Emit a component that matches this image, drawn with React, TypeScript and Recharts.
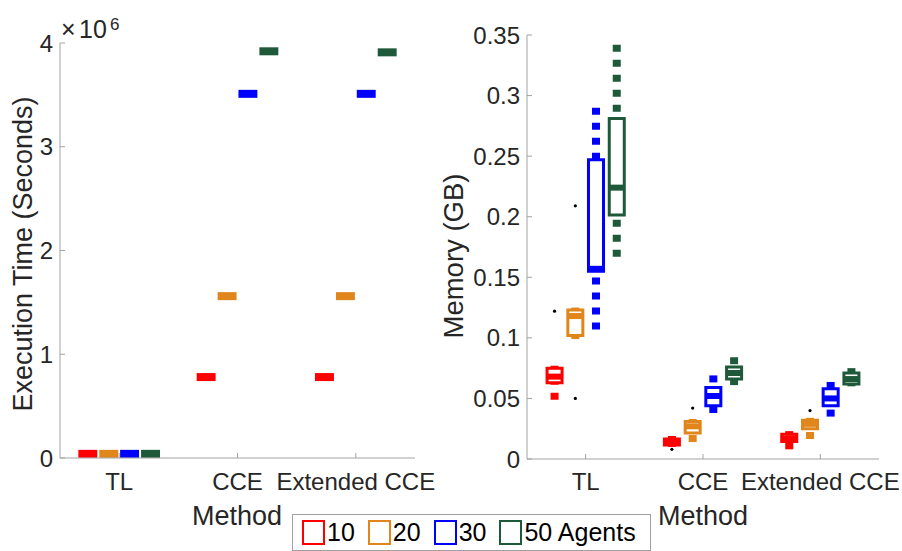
import React from 'react';
import { ComposedChart, XAxis, YAxis, ReferenceLine, ReferenceArea, ReferenceDot } from 'recharts';

// ---------- data ----------
const methods = ['TL', 'CCE', 'Extended CCE'];
const agentLabels = ['10', '20', '30', '50 Agents'];
const seriesColors = ['#ff0000', '#e0861a', '#0000ff', '#1e5a3a'];
const groupOffsets = [-0.265, -0.088, 0.088, 0.265];

// Execution time (seconds), one value per method [TL, CCE, Extended CCE]
const time10 = [40000, 780000, 780000];
const time20 = [40000, 1560000, 1560000];
const time30 = [40000, 3510000, 3510000];
const time50 = [40000, 3920000, 3910000];
const timeTicks = [0, 1000000, 2000000, 3000000, 4000000];
const timeTickLabels = ['0', '1', '2', '3', '4'];

// Memory (GB), per method: [whiskerLow, q1, median, q3, whiskerHigh]
const mem10 = [
  [0.049, 0.063, 0.068, 0.075, 0.077],
  [0.01, 0.0115, 0.014, 0.0165, 0.019],
  [0.008, 0.0145, 0.017, 0.0205, 0.023],
];
const mem20 = [
  [0.099, 0.102, 0.118, 0.123, 0.125],
  [0.014, 0.0215, 0.027, 0.031, 0.033],
  [0.0165, 0.025, 0.029, 0.032, 0.034],
];
const mem30 = [
  [0.107, 0.155, 0.157, 0.247, 0.29],
  [0.038, 0.044, 0.052, 0.059, 0.069],
  [0.035, 0.044, 0.05, 0.058, 0.0636],
];
const mem50 = [
  [0.167, 0.2015, 0.224, 0.281, 0.342],
  [0.061, 0.066, 0.071, 0.076, 0.084],
  [0.06, 0.062, 0.066, 0.071, 0.075],
];
// outliers: [methodIndex, seriesIndex, value]
const memOutliers = [
  [0, 0, 0.122],
  [0, 1, 0.05],
  [0, 1, 0.209],
  [1, 0, 0.008],
  [1, 1, 0.042],
  [2, 1, 0.04],
];
const memTicks = [0, 0.05, 0.1, 0.15, 0.2, 0.25, 0.3, 0.35];
const memTickLabels = ['0', '0.05', '0.1', '0.15', '0.2', '0.25', '0.3', '0.35'];

// ---------- styling ----------
const FONT = '"Liberation Sans", Arial, Helvetica, sans-serif';
const AXIS_GRAY = '#a3a3a3';
const TEXT_GRAY = '#262626';

type Row = { key: string; x: number; color: string; lo: number; q1: number; med: number; q3: number; hi: number };

const timeSeries = [time10, time20, time30, time50];
const memSeries = [mem10, mem20, mem30, mem50];

const timeRows: Row[] = [];
timeSeries.forEach((vals, si) =>
  vals.forEach((v, mi) =>
    timeRows.push({ key: `t${si}-${mi}`, x: mi + 1 + groupOffsets[si], color: seriesColors[si], lo: v, q1: v, med: v, q3: v, hi: v })
  )
);
const memRows: Row[] = [];
memSeries.forEach((vals, si) =>
  vals.forEach((s, mi) =>
    memRows.push({ key: `m${si}-${mi}`, x: mi + 1 + groupOffsets[si], color: seriesColors[si], lo: s[0], q1: s[1], med: s[2], q3: s[3], hi: s[4] })
  )
);

function renderBoxes(rows: Row[], halfW: number, medW: number) {
  const out: React.ReactNode[] = [];
  rows.forEach((r) => {
    if (r.hi > r.q3)
      out.push(
        <ReferenceLine key={r.key + 'wh'} segment={[{ x: r.x, y: r.hi }, { x: r.x, y: r.q3 }]} stroke={r.color} strokeWidth={8} strokeDasharray="7 8" />
      );
    if (r.lo < r.q1)
      out.push(
        <ReferenceLine key={r.key + 'wl'} segment={[{ x: r.x, y: r.lo }, { x: r.x, y: r.q1 }]} stroke={r.color} strokeWidth={8} strokeDasharray="7 8" />
      );
    if (r.q3 > r.q1)
      out.push(
        <ReferenceArea key={r.key + 'b'} x1={r.x - halfW} x2={r.x + halfW} y1={r.q1} y2={r.q3} fill="none" fillOpacity={0} stroke={r.color} strokeWidth={3} />
      );
    out.push(
      <ReferenceLine key={r.key + 'm'} segment={[{ x: r.x - halfW, y: r.med }, { x: r.x + halfW, y: r.med }]} stroke={r.color} strokeWidth={medW} />
    );
  });
  return out;
}

const tickStyle = { fill: TEXT_GRAY, fontSize: 24, fontFamily: FONT };

export default function App() {
  const methodTickFmt = (v: number) => methods[Math.round(v) - 1] ?? '';
  return (
    <div style={{ position: 'fixed', left: 0, top: 0, width: 902, height: 551, background: '#fff', fontFamily: FONT }}>
      {/* Left chart: execution time */}
      <div style={{ position: 'absolute', left: 0, top: 0 }}>
        <ComposedChart width={451} height={551} data={timeRows} margin={{ top: 43, right: 36, bottom: 33, left: 0 }}>
          <XAxis
            xAxisId={0}
            type="number"
            dataKey="x"
            domain={[0.5, 3.5]}
            ticks={[1, 2, 3]}
            interval={0}
            tickFormatter={methodTickFmt}
            height={60}
            tickSize={-5}
            tickMargin={20}
            stroke={AXIS_GRAY}
            tick={tickStyle}
            allowDataOverflow
          />
          <XAxis xAxisId="top" orientation="top" type="number" dataKey="x" domain={[0.5, 3.5]} ticks={[1, 2, 3]} interval={0} height={0} tickSize={-5} tick={false} stroke={AXIS_GRAY} allowDataOverflow />
          <YAxis
            yAxisId={0}
            type="number"
            domain={[0, 4000000]}
            ticks={timeTicks}
            interval={0}
            tickFormatter={(v: number) => timeTickLabels[timeTicks.indexOf(v)] ?? ''}
            width={60}
            tickSize={-5}
            tickMargin={12}
            stroke={AXIS_GRAY}
            tick={tickStyle}
            allowDataOverflow
          />
          <YAxis yAxisId="right" orientation="right" type="number" domain={[0, 4000000]} ticks={timeTicks} interval={0} width={0} tickSize={-5} tick={false} stroke={AXIS_GRAY} allowDataOverflow />
          {renderBoxes(timeRows, 0.08, 8)}
        </ComposedChart>
      </div>

      {/* Right chart: memory */}
      <div style={{ position: 'absolute', left: 430, top: 0 }}>
        <ComposedChart width={472} height={551} data={memRows} margin={{ top: 35, right: 23, bottom: 32, left: 0 }}>
          <XAxis
            xAxisId={0}
            type="number"
            dataKey="x"
            domain={[0.5, 3.5]}
            ticks={[1, 2, 3]}
            interval={0}
            tickFormatter={methodTickFmt}
            height={60}
            tickSize={-5}
            tickMargin={19}
            stroke={AXIS_GRAY}
            tick={tickStyle}
            allowDataOverflow
          />
          <XAxis xAxisId="top" orientation="top" type="number" dataKey="x" domain={[0.5, 3.5]} ticks={[1, 2, 3]} interval={0} height={0} tickSize={-5} tick={false} stroke={AXIS_GRAY} allowDataOverflow />
          <YAxis
            yAxisId={0}
            type="number"
            domain={[0, 0.35]}
            ticks={memTicks}
            interval={0}
            tickFormatter={(v: number) => memTickLabels[memTicks.indexOf(v)] ?? ''}
            width={97}
            tickSize={-5}
            tickMargin={12}
            stroke={AXIS_GRAY}
            tick={tickStyle}
            allowDataOverflow
          />
          <YAxis yAxisId="right" orientation="right" type="number" domain={[0, 0.35]} ticks={memTicks} interval={0} width={0} tickSize={-5} tick={false} stroke={AXIS_GRAY} allowDataOverflow />
          {renderBoxes(memRows, 0.064, 6)}
          {memOutliers.map(([mi, si, v], i) => (
            <ReferenceDot key={'o' + i} x={mi + 1 + groupOffsets[si]} y={v} r={1.6} fill="#000" stroke="none" />
          ))}
        </ComposedChart>
      </div>

      {/* Titles / axis labels */}
      <svg width={902} height={551} style={{ position: 'absolute', left: 0, top: 0, pointerEvents: 'none' }}>
        <text x={61} y={38} fontSize={25} fill={TEXT_GRAY} fontFamily={FONT}>×</text>
        <text x={79} y={38} fontSize={25} fill={TEXT_GRAY} fontFamily={FONT}>10</text>
        <text x={110} y={30} fontSize={17} fill={TEXT_GRAY} fontFamily={FONT}>6</text>
        <text transform="translate(32,254) rotate(-90)" textAnchor="middle" fontSize={27} fill={TEXT_GRAY} fontFamily={FONT}>
          Execution Time (Seconds)
        </text>
        <text transform="translate(463,256) rotate(-90)" textAnchor="middle" fontSize={27.5} fill={TEXT_GRAY} fontFamily={FONT}>
          Memory (GB)
        </text>
        <text x={237} y={525} textAnchor="middle" fontSize={27} fill={TEXT_GRAY} fontFamily={FONT}>Method</text>
        <text x={703} y={525} textAnchor="middle" fontSize={27} fill={TEXT_GRAY} fontFamily={FONT}>Method</text>
      </svg>

      {/* Legend */}
      <div
        style={{
          position: 'absolute',
          left: 292,
          top: 514,
          width: 359,
          height: 37,
          border: '1px solid #a0a0a0',
          background: '#fff',
          display: 'flex',
          alignItems: 'center',
          paddingLeft: 9,
          boxSizing: 'border-box',
          fontSize: 25,
          color: '#000',
        }}
      >
        {agentLabels.map((lab, i) => (
          <div key={lab} style={{ display: 'flex', alignItems: 'center', marginRight: 13 }}>
            <div style={{ width: 19, height: 21, border: `2px solid ${seriesColors[i]}`, marginRight: 2 }} />
            <span style={{ lineHeight: '25px' }}>{lab}</span>
          </div>
        ))}
      </div>
    </div>
  );
}
